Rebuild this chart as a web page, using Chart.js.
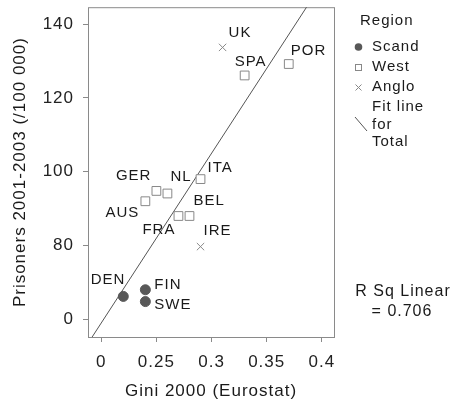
<!DOCTYPE html>
<html>
<head>
<meta charset="utf-8">
<script src="https://cdn.jsdelivr.net/npm/chart.js@4/dist/chart.umd.min.js"></script>
<style>
  html, body { margin: 0; padding: 0; background: #fff; }
  #wrap { width: 454px; height: 405px; }
</style>
</head>
<body>
<div id="wrap"><canvas id="chart" width="454" height="405"></canvas></div>
<script>
// data (axes are broken: first tick stands for 0.2 / 60)
const countries = ['DEN', 'FIN', 'SWE', 'AUS', 'GER', 'NL', 'FRA', 'BEL', 'ITA', 'IRE', 'UK', 'SPA', 'POR'];
const regions = ['Scand', 'Scand', 'Scand', 'West', 'West', 'West', 'West', 'West', 'West', 'Anglo', 'Anglo', 'West', 'West'];
const gini = [0.22, 0.24, 0.24, 0.24, 0.25, 0.26, 0.27, 0.28, 0.29, 0.29, 0.31, 0.33, 0.37];
const prisoners = [66.2, 68.0, 64.8, 92.0, 94.8, 94.1, 88.0, 88.0, 98.0, 79.7, 133.7, 126.1, 129.2];
const fitGini = [0.19, 0.39];
const fitPrisoners = [54.4, 146.4];
const xTickValues = [0.2, 0.25, 0.3, 0.35, 0.4];
const xTickLabels = ['0', '0.25', '0.3', '0.35', '0.4'];
const yTickValues = [60, 80, 100, 120, 140];
const yTickLabels = ['0', '80', '100', '120', '140'];
const rSquared = '0.706';

// label placement next to each point: [dx, dy, align]
const labelPos = {
  DEN: [2, -17, 'right'], FIN: [9, -5, 'left'], SWE: [9, 3, 'left'],
  AUS: [-6, 12, 'right'], GER: [-5, -15, 'right'], NL: [3, -17, 'left'],
  FRA: [-3, 14, 'right'], BEL: [4, -15, 'left'], ITA: [7, -11, 'left'],
  IRE: [3, -16, 'left'], UK: [6, -15, 'left'], SPA: [-10, -14, 'left'],
  POR: [2, -13, 'left']
};

const FONT = '"Liberation Sans", Arial, sans-serif';
Chart.defaults.font.family = FONT;
Chart.defaults.color = '#1a1a1a';

function pointsFor(region) {
  const pts = [];
  countries.forEach((c, i) => {
    if (regions[i] === region) pts.push({ x: gini[i], y: prisoners[i], name: c });
  });
  return pts;
}

const spacing = {
  id: 'spacing',
  beforeDraw(chart) { chart.ctx.letterSpacing = '1px'; }
};

const frame = {
  id: 'frame',
  beforeDatasetsDraw(chart) {
    const { ctx, chartArea: a } = chart;
    ctx.save();
    ctx.strokeStyle = '#8a8a8a';
    ctx.lineWidth = 1;
    ctx.strokeRect(a.left + 0.5, a.top + 0.5, a.right - a.left, a.bottom - a.top);
    ctx.restore();
  }
};

const annotations = {
  id: 'annotations',
  afterDraw(chart) {
    const ctx = chart.ctx;
    const xs = chart.scales.x, ys = chart.scales.y;
    ctx.save();
    ctx.letterSpacing = '1px';
    ctx.fillStyle = '#1a1a1a';
    ctx.textBaseline = 'middle';

    // point labels
    ctx.font = '15px ' + FONT;
    countries.forEach((c, i) => {
      const p = labelPos[c];
      ctx.textAlign = p[2];
      ctx.fillText(c, xs.getPixelForValue(gini[i]) + p[0], ys.getPixelForValue(prisoners[i]) + p[1]);
    });

    // legend
    ctx.textAlign = 'left';
    ctx.font = '15px ' + FONT;
    ctx.fillText('Region', 360, 21);
    ctx.fillText('Scand', 372, 47);
    ctx.fillText('West', 372, 67);
    ctx.fillText('Anglo', 372, 87);
    ctx.fillText('Fit line', 372, 107);
    ctx.fillText('for', 372, 125);
    ctx.fillText('Total', 372, 142);

    ctx.fillStyle = '#585858';
    ctx.beginPath();
    ctx.arc(358.5, 47, 3.8, 0, Math.PI * 2);
    ctx.fill();
    ctx.strokeStyle = '#888';
    ctx.lineWidth = 1;
    ctx.strokeRect(355.5, 64.5, 6, 6);
    ctx.beginPath();
    ctx.moveTo(355.5, 84.5); ctx.lineTo(361.5, 90.5);
    ctx.moveTo(361.5, 84.5); ctx.lineTo(355.5, 90.5);
    ctx.stroke();
    ctx.strokeStyle = '#555';
    ctx.beginPath();
    ctx.moveTo(355, 117); ctx.lineTo(367, 131);
    ctx.stroke();

    // r squared
    ctx.fillStyle = '#1a1a1a';
    ctx.textAlign = 'center';
    ctx.font = '16px ' + FONT;
    ctx.fillText('R Sq Linear', 403, 292);
    ctx.fillText('= ' + rSquared, 402, 312);
    ctx.restore();
  }
};

new Chart(document.getElementById('chart'), {
  type: 'scatter',
  data: {
    datasets: [
      {
        label: 'Fit line for Total',
        type: 'line',
        data: fitGini.map((x, i) => ({ x, y: fitPrisoners[i] })),
        borderColor: '#555',
        borderWidth: 1,
        pointRadius: 0,
        fill: false,
        order: 5
      },
      {
        label: 'West',
        data: pointsFor('West'),
        pointStyle: 'rect',
        pointRadius: 6.2,
        backgroundColor: '#fff',
        borderColor: '#888',
        borderWidth: 1
      },
      {
        label: 'Anglo',
        data: pointsFor('Anglo'),
        pointStyle: 'crossRot',
        pointRadius: 5.2,
        borderColor: '#888',
        borderWidth: 1
      },
      {
        label: 'Scand',
        data: pointsFor('Scand'),
        pointStyle: 'circle',
        pointRadius: 5,
        backgroundColor: '#585858',
        borderColor: '#585858',
        borderWidth: 1
      }
    ]
  },
  options: {
    responsive: false,
    animation: false,
    events: [],
    layout: { padding: { top: 7, right: 120, left: 0, bottom: 0 } },
    plugins: { legend: { display: false }, tooltip: { enabled: false } },
    scales: {
      x: {
        type: 'linear',
        min: 0.188,
        max: 0.411,
        afterFit(s) { s.height = 68; s.paddingLeft = 0; s.paddingRight = 0; },
        afterBuildTicks(s) { s.ticks = xTickValues.map(v => ({ value: v })); },
        grid: { drawOnChartArea: false, drawTicks: true, tickLength: 5, color: '#8a8a8a' },
        border: { display: false },
        ticks: {
          padding: 10,
          color: '#222',
          font: { size: 17 },
          maxRotation: 0,
          callback: (v) => xTickLabels[xTickValues.findIndex(t => Math.abs(t - v) < 1e-9)]
        },
        title: { display: true, text: 'Gini 2000 (Eurostat)', color: '#1a1a1a', font: { size: 17 }, padding: 3 }
      },
      y: {
        type: 'linear',
        min: 55.2,
        max: 144.6,
        afterFit(s) { s.width = 88; s.paddingTop = 0; s.paddingBottom = 0; },
        afterBuildTicks(s) { s.ticks = yTickValues.map(v => ({ value: v })); },
        grid: { drawOnChartArea: false, drawTicks: true, tickLength: 5, color: '#8a8a8a' },
        border: { display: false },
        ticks: {
          padding: 9,
          color: '#222',
          font: { size: 17 },
          callback: (v) => yTickLabels[yTickValues.indexOf(v)]
        },
        title: { display: true, text: 'Prisoners 2001-2003 (/100 000)', color: '#1a1a1a', font: { size: 17 }, padding: 10 }
      }
    }
  },
  plugins: [spacing, frame, annotations]
});
</script>
</body>
</html>
